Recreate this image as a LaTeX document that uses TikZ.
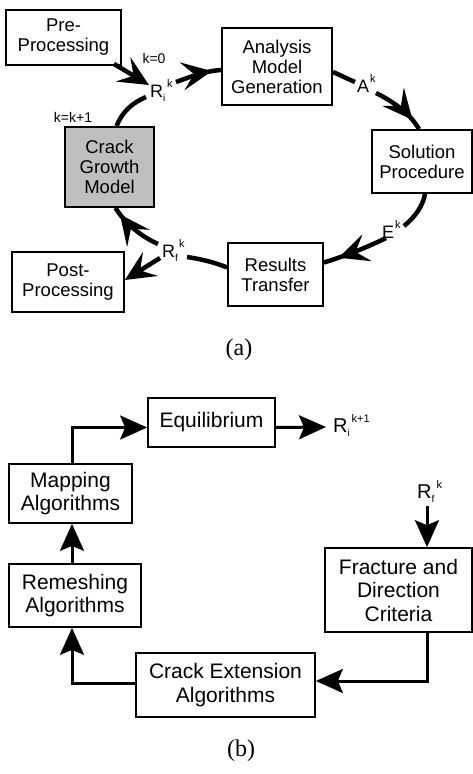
\documentclass[tikz,border=0pt]{standalone}
\usepackage{fontspec}
\setmainfont{Liberation Sans}
\newfontfamily\capfont{Liberation Serif}
\usetikzlibrary{arrows.meta,decorations.markings,calc}
\newcommand{\RSubSup}[4]{#1\makebox[0pt][l]{\raisebox{-4pt}{\fontsize{10}{10}\selectfont #2}}\hspace{#4}\raisebox{10pt}{\fontsize{11}{11}\selectfont #3}}
\begin{document}
\begin{tikzpicture}[x=1pt,y=-1pt,
  box/.style={draw, line width=1.7pt, align=center, inner sep=0pt},
  abox/.style={box, font=\fontsize{18.5}{20}\selectfont},
  bbox/.style={box, font=\fontsize{21}{23.5}\selectfont},
  lbl/.style={inner sep=0pt, font=\fontsize{18}{18}\selectfont, anchor=base west},
  blbl/.style={inner sep=0pt, font=\fontsize{20}{20}\selectfont, anchor=base west},
  smalllbl/.style={inner sep=0pt, font=\fontsize{14}{14}\selectfont},
  loopln/.style={line width=4.5pt},
  bln/.style={line width=3pt},
  aarrowend/.style={-{Stealth[length=30pt,width=28pt,inset=12pt]}},
  barrowend/.style={-{Stealth[length=27pt,width=24pt,inset=5pt]}},
  midarrow/.style={postaction={decorate},decoration={markings,mark=at position #1 with {\arrow{Stealth[length=30pt,width=28pt,inset=12pt]}}}},
  captxt/.style={font=\capfont\fontsize{24}{24}\selectfont, inner sep=0pt},
]
\useasboundingbox (0,0) rectangle (473,774);

% ---------- (a) ----------
\node[abox, minimum width=115pt, minimum height=55pt] (pre) at (63.5,37.5) {Pre-\\Processing};
\node[abox, minimum width=110pt, minimum height=77pt] (ana) at (277,66.5) {Analysis\\Model\\Generation};
\node[abox, minimum width=100pt, minimum height=63pt] (sol) at (422,161.5) {Solution\\Procedure};
\node[abox, minimum width=89pt, minimum height=80pt, fill=black!25] (crack) at (109.5,167) {Crack\\Growth\\Model};
\node[abox, minimum width=112pt, minimum height=60pt] (post) at (68,282) {Post-\\Processing};
\node[abox, minimum width=95pt, minimum height=63pt] (res) at (275.5,274.5) {Results\\Transfer};

\node[smalllbl] (k0) at (154,58) {k=0};
\node[smalllbl] (kk1) at (73,117) {k=k+1};
\node[lbl] (ri) at (150,97) {\RSubSup{R}{i}{k}{4pt}};
\node[lbl] (ak) at (357,92) {\RSubSup{A}{}{k}{1pt}};
\node[lbl] (ek) at (382,238) {\RSubSup{E}{}{k}{1pt}};
\node[lbl] (rf) at (162,257) {\RSubSup{R}{f}{k}{4pt}};

\coordinate (cA) at (149,85);
\coordinate (cG) at (146,97);
\coordinate (cB) at (176,82);
\coordinate (cC1) at (355,82);
\coordinate (cC2) at (376,93);
\coordinate (cD1) at (404,226);
\coordinate (cD2) at (386,238);
\coordinate (cE1) at (187,257);
\coordinate (cE2) at (158,244);
\coordinate (cF) at (160,258);

\draw[loopln, aarrowend] ($(pre.south east)+(-8,-2)$) -- (cA);
\draw[loopln] ($(crack.north)+(7,0)$) .. controls (122,112) and (132,103) .. (cG);
\draw[loopln, midarrow=0.8] (cB) .. controls (190,77) and (205,71) .. ($(ana.west)+(0,3.5)$);
\draw[loopln] ($(ana.east)+(0,5.5)$) .. controls (340,75) and (348,79) .. (cC1);
\draw[loopln, midarrow=0.8] (cC2) .. controls (392,101) and (410,113) .. ($(sol.north)+(-3,0)$);
\draw[loopln] ($(sol.south)+(3,0)$) .. controls (423,206) and (415,217) .. (cD1);
\draw[loopln, midarrow=0.77] (cD2) .. controls (368,247) and (345,256) .. ($(res.east)+(0,-12)$);
\draw[loopln] ($(res.west)+(0,-7)$) .. controls (214,262) and (200,259) .. (cE1);
\draw[loopln, midarrow=0.86] (cE2) .. controls (140,236) and (124,222) .. ($(crack.south)+(6,0)$);
\draw[loopln, aarrowend] (cF) -- ($(post.east)+(0,-2)$);

\node[captxt] (capa) at (239,350) {(a)};

% ---------- (b) ----------
\node[bbox, minimum width=127pt, minimum height=49pt] (equ) at (211.5,422.5) {Equilibrium};
\node[bbox, minimum width=123pt, minimum height=59pt] (map) at (70.5,493.5) {Mapping\\Algorithms};
\node[bbox, minimum width=132pt, minimum height=63pt] (rem) at (75,595.5) {Remeshing\\Algorithms};
\node[bbox, minimum width=147pt, minimum height=84pt] (frac) at (398.5,590) {Fracture and\\Direction\\Criteria};
\node[bbox, minimum width=179pt, minimum height=64pt] (cext) at (225.5,685) {Crack Extension\\Algorithms};

\node[blbl] (rk1) at (333,432) {\RSubSup{R}{i}{k+1}{4pt}};
\node[blbl] (rfb) at (417,498) {\RSubSup{R}{f}{k}{5pt}};

\coordinate (rtip) at (326,427);
\coordinate (mx) at (72,0);
\coordinate (fx) at (427,0);

\draw[bln, barrowend] (map.north -| mx) |- ($(equ.west)+(0,5)$);
\draw[bln, barrowend] ($(equ.east)+(0,5)$) -- (rtip);
\draw[bln, barrowend] ($(rfb.south -| fx)+(0,4)$) -- (frac.north -| fx);
\draw[bln, barrowend] (frac.south -| fx) |- ($(cext.east)+(0,-4)$);
\draw[bln, barrowend] ($(cext.west)+(0,-2)$) -| (rem.south -| mx);
\draw[bln, barrowend] (rem.north -| mx) -- (map.south -| mx);

\node[captxt] (capb) at (241,751) {(b)};
\end{tikzpicture}
\end{document}
